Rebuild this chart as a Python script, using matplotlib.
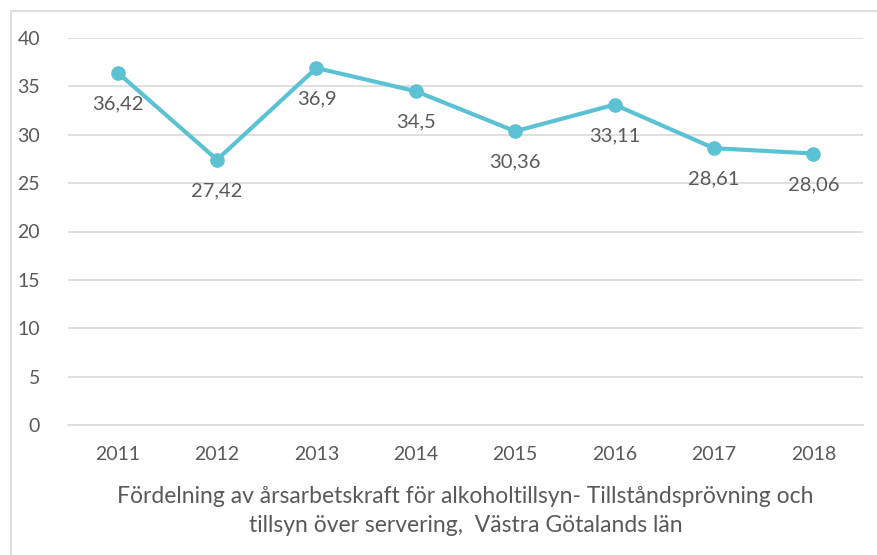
import matplotlib.pyplot as plt
import numpy as np
from matplotlib.patches import Rectangle

years = ['2011', '2012', '2013', '2014', '2015', '2016', '2017', '2018']
values = [36.42, 27.42, 36.9, 34.5, 30.36, 33.11, 28.61, 28.06]
value_labels = ['36,42', '27,42', '36,9', '34,5', '30,36', '33,11', '28,61', '28,06']
title = ('Fördelning av årsarbetskraft för alkoholtillsyn- Tillståndsprövning och\n'
         'tillsyn över servering,  Västra Götalands län')

plt.rcParams['font.family'] = ['Lato', 'DejaVu Sans']
text_color = '#595959'
line_color = '#5BC2D3'

fig = plt.figure(figsize=(8.78, 5.55), dpi=100)
ax = fig.add_axes([68 / 878, 1 - 425 / 555, (863 - 68) / 878, (425 - 38) / 555])

# outer chart frame
fig.patches.append(Rectangle((11 / 878, -0.1), 1.2, 1.1 - 11 / 555, transform=fig.transFigure,
                             fill=False, edgecolor='#D9D9D9', linewidth=1.2))

x = np.arange(len(years))
ax.plot(x, values, color=line_color, linewidth=3, marker='o', markersize=9.5, zorder=3)

for xi, v, lab in zip(x, values, value_labels):
    ax.annotate(lab, xy=(xi, v), xytext=(0, -31), textcoords='offset pixels',
                ha='center', va='center', fontsize=14.5, color=text_color)

ax.set_xlim(-0.5, len(years) - 0.5)
ax.set_ylim(0, 40)
ax.set_yticks(np.arange(0, 41, 5))
ax.set_xticks(x)
ax.set_xticklabels(years)
ax.yaxis.grid(True, color='#D9D9D9', linewidth=1.2)
ax.set_axisbelow(True)
for s in ['top', 'right', 'left']:
    ax.spines[s].set_visible(False)
ax.spines['bottom'].set_color('#D9D9D9')
ax.spines['bottom'].set_linewidth(1.2)
ax.tick_params(length=0, labelsize=14, colors=text_color)
ax.tick_params(axis='y', pad=20)
ax.tick_params(axis='x', pad=15)

ax.set_xlabel(title, fontsize=16.5, color=text_color, labelpad=17, linespacing=1.45)

fig.savefig('out.png', dpi=100)
